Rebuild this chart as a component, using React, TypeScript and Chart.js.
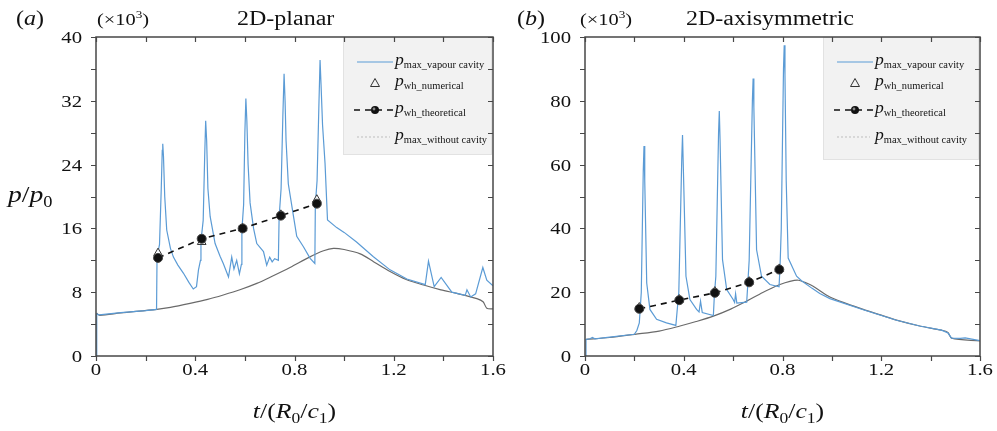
import React, { useEffect, useRef } from 'react';
import { Chart, registerables } from 'chart.js';

Chart.register(...registerables);

const SERIF = '"Liberation Serif", "Times New Roman", serif';
const BLUE = '#5b9bd5';
const GRAY = '#6a6a6a';

// ---------- Panel (a) 2D-planar ----------
const aVapourT = [0, 0.003, 0.012, 0.1, 0.2, 0.244, 0.246, 0.256, 0.263, 0.267, 0.269, 0.272, 0.277, 0.285, 0.3, 0.312, 0.33, 0.352, 0.375, 0.392, 0.405, 0.413, 0.421, 0.423, 0.432, 0.438, 0.442, 0.446, 0.451, 0.46, 0.48, 0.5, 0.513, 0.534, 0.547, 0.556, 0.567, 0.578, 0.586, 0.588, 0.595, 0.6, 0.604, 0.608, 0.613, 0.621, 0.635, 0.648, 0.675, 0.688, 0.7, 0.71, 0.72, 0.735, 0.738, 0.746, 0.753, 0.758, 0.762, 0.766, 0.775, 0.796, 0.809, 0.836, 0.863, 0.882, 0.884, 0.891, 0.898, 0.903, 0.907, 0.913, 0.923, 0.933, 0.97, 1.0, 1.05, 1.118, 1.185, 1.253, 1.327, 1.34, 1.363, 1.391, 1.434, 1.488, 1.495, 1.51, 1.53, 1.559, 1.575, 1.6];
const aVapourP = [0, 5.3, 5.15, 5.45, 5.7, 5.85, 12.4, 14, 21, 25.8, 26.6, 25, 20, 15.8, 13.5, 12.4, 11.4, 10.4, 9.2, 8.4, 8.7, 10.8, 12.0, 14.4, 17, 25, 29.5, 27, 21, 17.5, 14.1, 12.5, 11.6, 9.9, 12.4, 10.9, 12.0, 10.3, 11.5, 15.8, 19, 28, 32.3, 29.5, 24, 19.2, 16, 14.1, 13.1, 11.4, 12.4, 11.8, 12.2, 12.0, 17.4, 21, 30, 35.4, 32, 27, 21.6, 17.5, 15.0, 13.7, 12.25, 11.6, 19.0, 22, 31, 37.1, 34, 29, 24.2, 17.05, 16.1, 15.5, 14.3, 12.45, 10.8, 9.65, 8.95, 11.9, 8.7, 9.85, 8.0, 7.6, 8.3, 7.4, 7.8, 11.1, 9.5, 8.8];
const aNoCavT = [0.003, 0.015, 0.1, 0.245, 0.3, 0.379, 0.45, 0.513, 0.58, 0.648, 0.71, 0.782, 0.86, 0.917, 0.957, 1.0, 1.065, 1.12, 1.185, 1.25, 1.32, 1.39, 1.454, 1.535, 1.56, 1.575, 1.6];
const aNoCavP = [5.35, 5.1, 5.4, 5.85, 6.1, 6.6, 7.1, 7.65, 8.3, 9.1, 10.0, 11.1, 12.4, 13.2, 13.5, 13.35, 12.8, 11.8, 10.6, 9.6, 8.9, 8.3, 7.85, 7.2, 6.8, 6.0, 5.9];
const aWhT = [0.25, 0.426, 0.591, 0.745, 0.89];
const aWhTheoP = [12.3, 14.7, 16.0, 17.6, 19.1];
const aWhNumP = [12.9, 14.3, 16.0, 17.7, 19.6];

// ---------- Panel (b) 2D-axisymmetric ----------
const bVapourT = [0, 0.004, 0.02, 0.03, 0.04, 0.1, 0.2, 0.21, 0.22, 0.228, 0.236, 0.239, 0.242, 0.25, 0.263, 0.29, 0.33, 0.368, 0.373, 0.38, 0.392, 0.395, 0.398, 0.409, 0.425, 0.452, 0.462, 0.468, 0.475, 0.52, 0.524, 0.53, 0.541, 0.544, 0.547, 0.557, 0.574, 0.6, 0.606, 0.61, 0.615, 0.655, 0.659, 0.665, 0.678, 0.681, 0.684, 0.695, 0.715, 0.749, 0.786, 0.79, 0.795, 0.804, 0.807, 0.81, 0.815, 0.823, 0.857, 0.877, 0.92, 0.951, 0.992, 1.127, 1.262, 1.356, 1.444, 1.47, 1.485, 1.52, 1.54, 1.6];
const bVapourP = [0, 5.2, 5.4, 5.8, 5.4, 5.9, 6.8, 8, 10.4, 20, 58, 65.8, 55, 22.9, 14.6, 11.5, 10.4, 9.6, 14, 20, 62, 69.3, 60, 25, 17.7, 14.6, 13.8, 17.2, 13.6, 12.7, 19, 25, 70, 76.8, 68, 30.2, 20.8, 17.7, 16.8, 19.5, 16.6, 16.9, 22, 30, 80, 87.0, 78, 33.3, 25, 22.4, 21.7, 28, 40, 90, 97.4, 88, 55, 30.7, 25, 23.6, 21.2, 19.6, 18.0, 14.5, 11.2, 9.4, 8.1, 7.2, 5.6, 5.5, 5.7, 4.8];
const bNoCavT = [0.004, 0.1, 0.202, 0.3, 0.385, 0.45, 0.52, 0.59, 0.655, 0.72, 0.79, 0.83, 0.864, 0.9, 0.924, 0.992, 1.06, 1.127, 1.2, 1.262, 1.356, 1.444, 1.47, 1.485, 1.6];
const bNoCavP = [5.2, 5.8, 6.8, 7.8, 9.4, 10.8, 12.5, 14.7, 17.2, 19.9, 22.4, 23.4, 23.75, 22.8, 21.9, 18.5, 16.4, 14.6, 12.8, 11.25, 9.4, 8.1, 7.4, 5.6, 4.7];
const bWhT = [0.22, 0.382, 0.526, 0.665, 0.787];
const bWhTheoP = [14.8, 17.5, 19.8, 23.1, 27.1];
const bWhNumP = [15.2, 17.7, 20.2, 23.3, 27.3];

// ---------- ticks ----------
const xTickVals = [0, 0.4, 0.8, 1.2, 1.6];
const xTickLabels = ['0', '0.4', '0.8', '1.2', '1.6'];
const xMinorVals = [0.2, 0.6, 1.0, 1.4];
const aYTickVals = [0, 8, 16, 24, 32, 40];
const aYTickLabels = ['0', '8', '16', '24', '32', '40'];
const aYMinorVals = [4, 12, 20, 28, 36];
const bYTickVals = [0, 20, 40, 60, 80, 100];
const bYTickLabels = ['0', '20', '40', '60', '80', '100'];
const bYMinorVals = [10, 30, 50, 70, 90];

type Run = { t: string; f: string; dy?: number };

function drawRuns(ctx: CanvasRenderingContext2D, runs: Run[], x: number, y: number, align: 'left' | 'center' | 'right', sx = 1.2, color = '#111') {
  ctx.save();
  ctx.textBaseline = 'alphabetic';
  ctx.textAlign = 'left';
  ctx.fillStyle = color;
  let w = 0;
  const ws = runs.map((r) => {
    ctx.font = r.f;
    const m = ctx.measureText(r.t).width;
    w += m;
    return m;
  });
  const total = w * sx;
  const start = align === 'left' ? x : align === 'center' ? x - total / 2 : x - total;
  ctx.translate(start, y);
  ctx.scale(sx, 1);
  let cx = 0;
  runs.forEach((r, i) => {
    ctx.font = r.f;
    ctx.fillText(r.t, cx, r.dy ?? 0);
    cx += ws[i];
  });
  ctx.restore();
}

const f = (size: number, italic = false) => `${italic ? 'italic ' : ''}${size}px ${SERIF}`;

interface PanelCfg {
  id: string;
  left: number;
  width: number;
  yAxisWidth: number;
  padRight: number;
  yMax: number;
  yStep: number;
  yTickVals: number[];
  yTickLabels: string[];
  yMinorVals: number[];
  letter: string;
  title: string;
  titleX: number;
  scaleLabelX: number;
  letterX: number;
  showYTitle: boolean;
  legendX: number;
  legendW: number;
  legendH: number;
  vapT: number[];
  vapP: number[];
  noT: number[];
  noP: number[];
  whT: number[];
  whTheo: number[];
  whNum: number[];
}

const panels: PanelCfg[] = [
  {
    id: 'a', left: 0, width: 512, yAxisWidth: 96, padRight: 19, yMax: 40, yStep: 8,
    yTickVals: aYTickVals, yTickLabels: aYTickLabels, yMinorVals: aYMinorVals,
    letter: 'a', title: '2D-planar', titleX: 237, scaleLabelX: 97, letterX: 16, showYTitle: true,
    legendX: 343, legendW: 149, legendH: 118,
    vapT: aVapourT, vapP: aVapourP, noT: aNoCavT, noP: aNoCavP, whT: aWhT, whTheo: aWhTheoP, whNum: aWhNumP,
  },
  {
    id: 'b', left: 500, width: 497, yAxisWidth: 85, padRight: 17, yMax: 100, yStep: 20,
    yTickVals: bYTickVals, yTickLabels: bYTickLabels, yMinorVals: bYMinorVals,
    letter: 'b', title: '2D-axisymmetric', titleX: 186, scaleLabelX: 80, letterX: 17, showYTitle: false,
    legendX: 323, legendW: 156, legendH: 123,
    vapT: bVapourT, vapP: bVapourP, noT: bNoCavT, noP: bNoCavP, whT: bWhT, whTheo: bWhTheoP, whNum: bWhNumP,
  },
];

const zip = (t: number[], p: number[]) => t.map((x, i) => ({ x, y: p[i] }));

function decoPlugin(p: PanelCfg) {
  return {
    id: 'deco_' + p.id,
    afterDatasetsDraw(chart: any) {
      const ctx: CanvasRenderingContext2D = chart.ctx;
      const xs = chart.scales.x;
      const ys = chart.scales.y;
      const { left, right, top, bottom } = chart.chartArea;

      // legend box
      const lx = p.legendX;
      const ly = top;
      ctx.save();
      ctx.fillStyle = '#f2f2f2';
      ctx.fillRect(lx, ly, p.legendW, p.legendH);
      ctx.strokeStyle = '#e2e2e2';
      ctx.lineWidth = 1;
      ctx.strokeRect(lx + 0.5, ly + 0.5, p.legendW - 1, p.legendH - 1);
      const s0 = lx + 14;
      const s1 = lx + 50;
      const sc = (s0 + s1) / 2;
      const tx = lx + 52;
      const rows = [ly + 25, ly + 46, ly + 73, ly + 100];
      ctx.strokeStyle = BLUE;
      ctx.lineWidth = 1.2;
      ctx.beginPath();
      ctx.moveTo(s0, rows[0]);
      ctx.lineTo(s1, rows[0]);
      ctx.stroke();
      ctx.strokeStyle = '#333';
      ctx.lineWidth = 1;
      ctx.beginPath();
      ctx.moveTo(sc, rows[1] - 4.5);
      ctx.lineTo(sc - 4.5, rows[1] + 3.5);
      ctx.lineTo(sc + 4.5, rows[1] + 3.5);
      ctx.closePath();
      ctx.stroke();
      ctx.strokeStyle = '#111';
      ctx.lineWidth = 1.6;
      ctx.setLineDash([6, 5]);
      ctx.beginPath();
      ctx.moveTo(s0 - 3, rows[2]);
      ctx.lineTo(s1 + 2, rows[2]);
      ctx.stroke();
      ctx.setLineDash([]);
      ctx.fillStyle = '#111';
      ctx.beginPath();
      ctx.arc(sc, rows[2], 4, 0, Math.PI * 2);
      ctx.fill();
      ctx.fillStyle = '#888';
      ctx.beginPath();
      ctx.arc(sc - 1, rows[2] - 1, 1.4, 0, Math.PI * 2);
      ctx.fill();
      ctx.strokeStyle = '#bdbdbd';
      ctx.lineWidth = 1;
      ctx.setLineDash([2, 2]);
      ctx.beginPath();
      ctx.moveTo(s0, rows[3]);
      ctx.lineTo(s1 - 3, rows[3]);
      ctx.stroke();
      ctx.setLineDash([]);
      const subs = ['max_vapour cavity', 'wh_numerical', 'wh_theoretical', 'max_without cavity'];
      subs.forEach((s, i) => {
        drawRuns(ctx, [{ t: 'p', f: f(16, true) }, { t: s, f: f(9.5), dy: 2.5 }], tx, rows[i] + 3, 'left', 1.1);
      });
      ctx.restore();

      // frame and ticks
      ctx.save();
      ctx.strokeStyle = '#474747';
      ctx.lineWidth = 1.5;
      ctx.strokeRect(left, top, right - left, bottom - top);
      ctx.lineWidth = 1.2;
      ctx.beginPath();
      const TL = 5;
      [...xTickVals, ...xMinorVals].forEach((v) => {
        const px = Math.round(xs.getPixelForValue(v)) + 0.5;
        ctx.moveTo(px, bottom);
        ctx.lineTo(px, bottom + TL);
        ctx.moveTo(px, top);
        ctx.lineTo(px, top + TL);
      });
      [...p.yTickVals, ...p.yMinorVals].forEach((v) => {
        const py = Math.round(ys.getPixelForValue(v)) + 0.5;
        ctx.moveTo(left, py);
        ctx.lineTo(left - TL, py);
        ctx.moveTo(right, py);
        ctx.lineTo(right - TL, py);
      });
      ctx.stroke();
      ctx.restore();

      // tick labels
      xTickVals.forEach((v, i) => {
        drawRuns(ctx, [{ t: xTickLabels[i], f: f(17) }], xs.getPixelForValue(v), bottom + 19, 'center', 1.22);
      });
      p.yTickVals.forEach((v, i) => {
        drawRuns(ctx, [{ t: p.yTickLabels[i], f: f(17) }], left - 14, ys.getPixelForValue(v) + 6, 'right', 1.22);
      });

      // header texts
      drawRuns(ctx, [{ t: '(', f: f(20) }, { t: p.letter, f: f(20, true) }, { t: ')', f: f(20) }], p.letterX, 25, 'left', 1.2);
      drawRuns(ctx, [{ t: '(\u00d710', f: f(17) }, { t: '3', f: f(11), dy: -7 }, { t: ')', f: f(17) }], p.scaleLabelX, 25, 'left', 1.2);
      drawRuns(ctx, [{ t: p.title, f: f(20) }], p.titleX, 25, 'left', 1.2);

      // axis titles
      const cx = (left + right) / 2;
      drawRuns(ctx, [
        { t: 't', f: f(22, true) }, { t: '/(', f: f(22) }, { t: 'R', f: f(22, true) },
        { t: '0', f: f(15), dy: 5 }, { t: '/', f: f(22) }, { t: 'c', f: f(22, true) },
        { t: '1', f: f(15), dy: 5 }, { t: ')', f: f(22) },
      ], cx, 418, 'center', 1.17);
      if (p.showYTitle) {
        drawRuns(ctx, [
          { t: 'p', f: f(24, true) }, { t: '/', f: f(24) }, { t: 'p', f: f(24, true) },
          { t: '0', f: f(16), dy: 5 },
        ], 8, (top + bottom) / 2 + 5, 'left', 1.15);
      }
    },
  };
}

function Panel({ cfg }: { cfg: PanelCfg }) {
  const ref = useRef<HTMLCanvasElement | null>(null);
  useEffect(() => {
    if (!ref.current) return;
    const chart = new Chart(ref.current, {
      type: 'scatter',
      data: {
        datasets: [
          {
            label: 'p_wh_theoretical',
            data: zip(cfg.whT, cfg.whTheo),
            showLine: true,
            borderColor: '#111',
            borderWidth: 1.6,
            borderDash: [6, 5],
            pointStyle: 'circle',
            pointRadius: 4.5,
            pointBackgroundColor: '#111',
            pointBorderColor: '#444',
            pointBorderWidth: 1,
          },
          {
            label: 'p_wh_numerical',
            data: zip(cfg.whT, cfg.whNum),
            showLine: false,
            pointStyle: 'triangle',
            pointRadius: 5,
            pointBackgroundColor: 'rgba(255,255,255,0.9)',
            pointBorderColor: '#333',
            pointBorderWidth: 1,
          },
          {
            label: 'p_max_vapour cavity',
            data: zip(cfg.vapT, cfg.vapP),
            showLine: true,
            borderColor: BLUE,
            borderWidth: 1.2,
            pointRadius: 0,
          },
          {
            label: 'p_max_without cavity',
            data: zip(cfg.noT, cfg.noP),
            showLine: true,
            borderColor: GRAY,
            borderWidth: 1.2,
            pointRadius: 0,
            tension: 0.3,
          },
        ],
      },
      options: {
        animation: false,
        responsive: false,
        maintainAspectRatio: false,
        layout: { padding: { left: 0, right: cfg.padRight, top: 37, bottom: 0 } },
        plugins: { legend: { display: false }, tooltip: { enabled: false } },
        scales: {
          x: {
            type: 'linear',
            min: 0,
            max: 1.6,
            ticks: { display: false, stepSize: 0.4 },
            grid: { display: false, drawTicks: false },
            border: { display: false },
            afterFit: (s: any) => { s.height = 75; },
          },
          y: {
            type: 'linear',
            min: 0,
            max: cfg.yMax,
            ticks: { display: false, stepSize: cfg.yStep },
            grid: { display: false, drawTicks: false },
            border: { display: false },
            afterFit: (s: any) => { s.width = cfg.yAxisWidth; },
          },
        },
      } as any,
      plugins: [decoPlugin(cfg)],
    });
    return () => chart.destroy();
  }, [cfg]);
  return (
    <canvas
      ref={ref}
      width={cfg.width}
      height={431}
      style={{ position: 'absolute', left: cfg.left, top: 0, display: 'block', width: cfg.width, height: 431 }}
    />
  );
}

export default function App() {
  return (
    <div style={{ position: 'fixed', left: 0, top: 0, width: 997, height: 431, background: '#fff', overflow: 'hidden' }}>
      {panels.map((p) => (
        <Panel key={p.id} cfg={p} />
      ))}
    </div>
  );
}
